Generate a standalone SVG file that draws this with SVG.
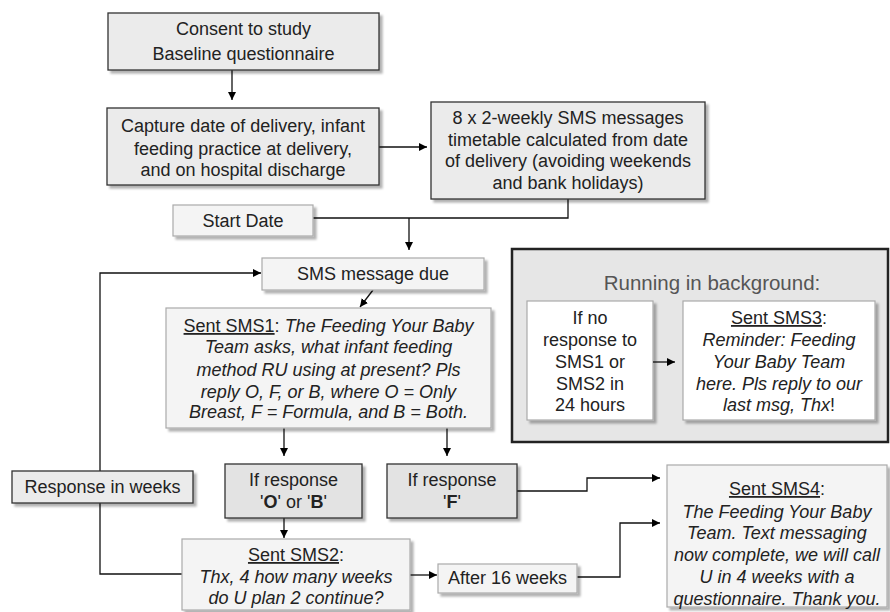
<svg xmlns="http://www.w3.org/2000/svg" width="890" height="612" viewBox="0 0 890 612">
<defs>
<filter id="sh" x="-10%" y="-10%" width="130%" height="140%"><feDropShadow dx="3" dy="3" stdDeviation="1.2" flood-color="#000" flood-opacity="0.3"/></filter>
<marker id="ah" viewBox="0 0 10 10" refX="10" refY="5" markerWidth="8" markerHeight="8" markerUnits="userSpaceOnUse" orient="auto"><path d="M0,0 L10,5 L0,10 z" fill="#000"/></marker>
<style>
text{font-family:"Liberation Sans",Arial,sans-serif;font-size:18px;fill:#222;text-anchor:middle}
.dk{fill:#ebebeb;stroke:#333;stroke-width:1.3;filter:url(#sh)}
.md{fill:#e3e3e3;stroke:#333;stroke-width:1.3;filter:url(#sh)}
.lt{fill:#f4f4f4;stroke:#aaa;stroke-width:1.2;filter:url(#sh)}
.wh{fill:#fff;stroke:#aaa;stroke-width:1.2;filter:url(#sh)}
.c{fill:none;stroke:#111;stroke-width:1.3}
.i{font-style:italic}
.u{text-decoration:underline}
.b{font-weight:bold}
</style>
</defs>
<g id="connectors">
<path class="c" d="M232,70 V100" marker-end="url(#ah)"/>
<path class="c" d="M379,147 H427" marker-end="url(#ah)"/>
<path class="c" d="M568,199 V218 H313"/>
<path class="c" d="M409,218 V250" marker-end="url(#ah)"/>
<path class="c" d="M182,574 H100 V273 H261" marker-end="url(#ah)"/>
<path class="c" d="M373,290 L360,307" marker-end="url(#ah)"/>
<path class="c" d="M284,428 V456" marker-end="url(#ah)"/>
<path class="c" d="M447,428 V456" marker-end="url(#ah)"/>
<path class="c" d="M284,518 V538" marker-end="url(#ah)"/>
<path class="c" d="M410,575 H437" marker-end="url(#ah)"/>
<path class="c" d="M577,577 H620 V523 H660" marker-end="url(#ah)"/>
<path class="c" d="M517,491 H587 V478 H660" marker-end="url(#ah)"/>
</g>
<g id="consent"><rect class="dk" x="108" y="13" width="271" height="57"/>
<text x="243.5" y="35">Consent to study</text><text x="243.5" y="60">Baseline questionnaire</text></g>
<g id="capture"><rect class="dk" x="107" y="108" width="272" height="77"/>
<text x="243" y="132">Capture date of delivery, infant</text><text x="243" y="155">feeding practice at delivery,</text><text x="243" y="176">and on hospital discharge</text></g>
<g id="timetable"><rect class="dk" x="431" y="102" width="274" height="97"/>
<text x="568" y="124">8 x 2-weekly SMS messages</text><text x="568" y="146">timetable calculated from date</text><text x="568" y="167">of delivery (avoiding weekends</text><text x="568" y="189">and bank holidays)</text></g>
<g id="startdate"><rect class="lt" x="173" y="205" width="140" height="31"/><text x="243" y="227">Start Date</text></g>
<g id="smsdue"><rect class="lt" x="262" y="258" width="222" height="32"/><text x="373" y="280">SMS message due</text></g>
<g id="sms1"><rect class="lt" x="166" y="308" width="325" height="120"/>
<text x="328.5" y="332"><tspan class="u">Sent SMS1</tspan>: <tspan class="i">The Feeding Your Baby</tspan></text>
<text x="328.5" y="353" class="i">Team asks, what infant feeding</text>
<text x="328.5" y="376" class="i">method RU using at present? Pls</text>
<text x="328.5" y="398" class="i">reply O, F, or B, where O = Only</text>
<text x="328.5" y="418" class="i">Breast, F = Formula, and B = Both.</text></g>
<g id="resp-ob"><rect class="md" x="225" y="464" width="137" height="54"/>
<text x="293.5" y="486">If response</text><text x="293.5" y="508">'<tspan class="b">O</tspan>' or '<tspan class="b">B</tspan>'</text></g>
<g id="resp-f"><rect class="md" x="387" y="464" width="130" height="54"/>
<text x="452" y="486">If response</text><text x="452" y="508">'<tspan class="b">F</tspan>'</text></g>
<g id="weeks"><rect class="dk" x="12" y="471" width="181" height="32"/><text x="102.5" y="493">Response in weeks</text></g>
<g id="sms2"><rect class="lt" x="182" y="539" width="228" height="71"/>
<text x="296" y="561"><tspan class="u">Sent SMS2</tspan>:</text>
<text x="296" y="583" class="i">Thx, 4 how many weeks</text>
<text x="296" y="604" class="i">do U plan 2 continue?</text></g>
<g id="after16"><rect class="lt" x="438" y="564" width="139" height="29"/><text x="507.5" y="584">After 16 weeks</text></g>
<g id="sms4"><rect class="lt" x="667" y="465" width="220" height="142"/>
<text x="777" y="495"><tspan class="u">Sent SMS4</tspan>:</text>
<text x="777" y="518" class="i">The Feeding Your Baby</text>
<text x="777" y="539" class="i">Team. Text messaging</text>
<text x="777" y="561" class="i">now complete, we will call</text>
<text x="777" y="583" class="i">U in 4 weeks with a</text>
<text x="777" y="605" class="i">questionnaire. Thank you.</text></g>
<g id="background">
<rect x="512" y="249" width="376" height="193" fill="#e6e6e6" stroke="#222" stroke-width="2.5"/>
<text x="712" y="290" style="font-size:20.5px;fill:#555">Running in background:</text>
<g id="noresp"><rect class="wh" x="527" y="301" width="126" height="119"/>
<text x="590" y="324">If no</text><text x="590" y="346">response to</text><text x="590" y="368">SMS1 or</text><text x="590" y="390">SMS2 in</text><text x="590" y="411">24 hours</text></g>
<path class="c" d="M653,362 H675" marker-end="url(#ah)"/>
<g id="sms3"><rect class="wh" x="683" y="301" width="192" height="119"/>
<text x="779" y="324"><tspan class="u">Sent SMS3</tspan>:</text>
<text x="779" y="346" class="i">Reminder: Feeding</text>
<text x="779" y="368" class="i">Your Baby Team</text>
<text x="779" y="390" class="i">here. Pls reply to our</text>
<text x="779" y="411"><tspan class="i">last msg, Thx</tspan>!</text></g>
</g>
</svg>
